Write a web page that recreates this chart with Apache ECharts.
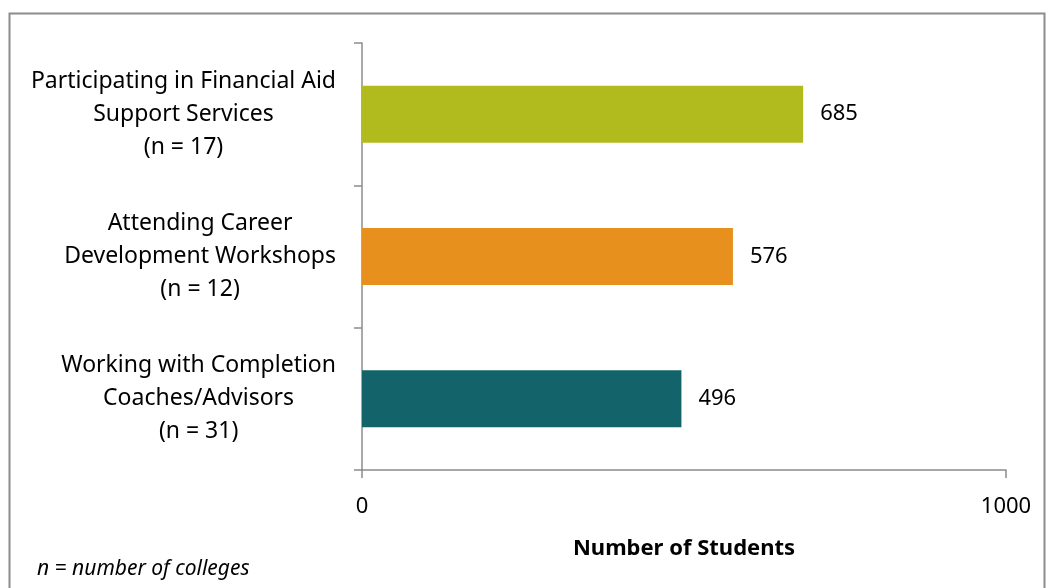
<!DOCTYPE html>
<html>
<head>
<meta charset="utf-8">
<script src="https://cdn.jsdelivr.net/npm/echarts@6/dist/echarts.min.js"></script>
<style>
  html, body { margin: 0; padding: 0; background: #fff; }
  #chart { width: 1047px; height: 588px; }
</style>
</head>
<body>
<div id="chart"></div>
<script>
// Categories (top to bottom) and number of students per service
const categories = [
  'Participating in Financial Aid\nSupport Services\n(n = 17)',
  'Attending Career\nDevelopment Workshops\n(n = 12)',
  'Working with Completion\nCoaches/Advisors\n(n = 31)'
];
const students = [685, 576, 496];
const barColors = ['#B2BB1E', '#E8901D', '#12646A'];
const axisMin = 0;
const axisMax = 1000;
const axisTitle = 'Number of Students';
const footnote = 'n = number of colleges';

const FONT = 'Noto Sans, Liberation Sans, sans-serif';
const chart = echarts.init(document.getElementById('chart'), null, { renderer: 'canvas' });

chart.setOption({
  animation: false,
  backgroundColor: '#fff',
  textStyle: { fontFamily: FONT },
  graphic: [
    {
      type: 'rect',
      shape: { x: 9.5, y: 13.5, width: 1035, height: 590 },
      style: { fill: 'none', stroke: '#8c8c8c', lineWidth: 2 },
      silent: true
    },
    {
      type: 'text',
      left: 37, top: 559,
      style: { text: footnote, font: 'italic 21px ' + FONT, fill: '#000' }
    }
  ],
  grid: { left: 362, right: 41, top: 43, bottom: 118, containLabel: false },
  xAxis: {
    type: 'value',
    min: axisMin, max: axisMax, interval: 1000,
    name: axisTitle,
    nameLocation: 'middle',
    nameGap: 68,
    nameTextStyle: { fontWeight: 'bold', fontSize: 22, color: '#000', fontFamily: FONT },
    axisLine: { show: true, lineStyle: { color: '#8c8c8c', width: 1.5 } },
    axisTick: { show: true, length: 8, lineStyle: { color: '#8c8c8c', width: 1.5 } },
    axisLabel: {
      fontSize: 22, color: '#000', margin: 26, fontFamily: FONT,
      formatter: v => String(v)
    },
    splitLine: { show: false }
  },
  yAxis: {
    type: 'category',
    inverse: true,
    data: categories,
    axisLine: { show: true, lineStyle: { color: '#8c8c8c', width: 1.5 } },
    axisTick: { show: true, length: 8, lineStyle: { color: '#8c8c8c', width: 1.5 } },
    axisLabel: {
      color: '#000', margin: 26, align: 'right',
      formatter: v => v.split('\n').map(s => '{c|' + s + '}').join('\n'),
      rich: {
        c: { fontSize: 23, lineHeight: 33, align: 'center', color: '#000', fontFamily: FONT }
      }
    }
  },
  series: [{
    type: 'bar',
    data: students.map((v, i) => ({ value: v, itemStyle: { color: barColors[i] } })),
    barCategoryGap: '60%',
    label: {
      show: true, position: 'right', distance: 17,
      fontSize: 22, color: '#000', fontFamily: FONT
    }
  }]
});
</script>
</body>
</html>
